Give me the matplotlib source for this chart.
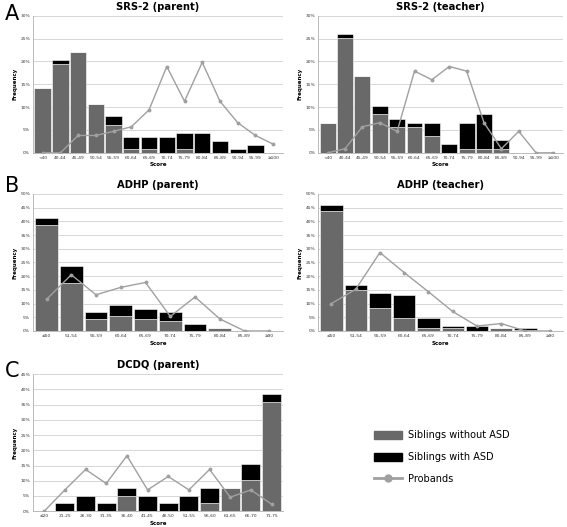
import matplotlib
matplotlib.use("Agg")
import matplotlib.pyplot as plt
import numpy as np
from matplotlib.patches import Patch
from matplotlib.lines import Line2D

# SRS-2 score bins
srs_bins = ['<40', '40-44', '45-49', '50-54', '55-59', '60-64', '65-69', '70-74',
            '75-79', '80-84', '85-89', '90-94', '95-99', '\u2265100']
srs_par_without = [14.2, 19.5, 22.1, 10.6, 6.2, 0.9, 0.9, 0, 0.9, 0, 0, 0, 0, 0]
srs_par_with = [0, 0.9, 0, 0, 1.8, 2.6, 2.6, 3.5, 3.5, 4.4, 2.6, 0.9, 1.8, 0]
srs_par_probands = [0, 0, 3.8, 3.8, 4.7, 5.7, 9.4, 18.9, 11.3, 19.8, 11.3, 6.6, 3.8, 1.9]

srs_tea_without = [6.6, 25.2, 16.8, 8.4, 5.6, 5.6, 3.7, 0, 0.9, 0.9, 0.9, 0, 0, 0]
srs_tea_with = [0, 0.9, 0, 1.9, 1.9, 0.9, 2.8, 1.9, 5.6, 7.5, 1.9, 0, 0, 0]
srs_tea_probands = [0, 0.9, 5.7, 6.6, 4.7, 17.9, 16.0, 18.9, 17.9, 6.6, 0.9, 4.7, 0, 0]

# ADHP score bins
adhp_bins = ['\u226450', '51-54', '55-59', '60-64', '65-69', '70-74', '75-79',
             '80-84', '85-89', '\u226590']
adhp_par_without = [38.6, 17.5, 4.4, 5.3, 4.4, 3.5, 0, 0.9, 0, 0]
adhp_par_with = [2.6, 6.2, 2.6, 4.3, 3.5, 3.5, 2.6, 0, 0, 0]
adhp_par_probands = [11.5, 20.5, 13.2, 15.9, 17.7, 5.3, 12.4, 4.4, 0, 0]

adhp_tea_without = [43.9, 15.0, 8.4, 4.7, 0.9, 0.9, 0, 0.9, 0.5, 0]
adhp_tea_with = [1.9, 1.8, 5.6, 8.4, 3.8, 1.0, 1.9, 0, 0.4, 0]
adhp_tea_probands = [10.0, 15.2, 28.6, 21.3, 14.3, 7.1, 1.8, 2.7, 0, 0]

# DCDQ score bins
dcdq_bins = ['\u226420', '21-25', '26-30', '31-35', '36-40', '41-45', '46-50',
             '51-55', '56-60', '61-65', '66-70', '71-75']
dcdq_without = [0, 0, 0, 0, 5.1, 0, 0, 0, 2.6, 7.7, 10.3, 35.9]
dcdq_with = [0, 2.6, 5.1, 2.6, 2.6, 5.1, 2.6, 5.1, 5.1, 0, 5.1, 2.6]
dcdq_probands = [0, 7.0, 13.7, 9.1, 18.2, 7.0, 11.4, 7.0, 13.7, 4.6, 7.0, 2.3]

GRAY = '#696969'
BLACK = '#000000'
LINE = '#a0a0a0'

fig = plt.figure(figsize=(5.67, 5.27), dpi=100)


def panel(rect, title, bins, without, with_asd, probands, ymax):
    ax = fig.add_axes(rect)
    x = np.arange(len(bins))
    ax.bar(x, without, width=0.92, color=GRAY, edgecolor='white', linewidth=0.4, zorder=2)
    ax.bar(x, with_asd, bottom=without, width=0.92, color=BLACK, edgecolor='white',
           linewidth=0.4, zorder=2)
    ax.plot(x, probands, color=LINE, lw=1.0, marker='o', ms=1.8, zorder=3)
    ax.set_xlim(-0.55, len(bins) - 0.45)
    ax.set_ylim(0, ymax)
    ax.set_yticks(np.arange(0, ymax + 0.1, 5))
    ax.set_yticklabels(['%d%%' % v for v in np.arange(0, ymax + 0.1, 5)])
    ax.set_xticks(x)
    ax.set_xticklabels(bins)
    ax.tick_params(labelsize=3.2, length=0, pad=2, colors='#333333')
    ax.grid(axis='y', color='#d0d0d0', lw=0.6, zorder=0)
    for s in ['top', 'right']:
        ax.spines[s].set_visible(False)
    ax.spines['left'].set_color('#b0b0b0')
    ax.spines['bottom'].set_color('#b0b0b0')
    ax.spines['left'].set_linewidth(0.6)
    ax.spines['bottom'].set_linewidth(0.6)
    ax.set_xlabel('Score', fontsize=4, fontweight='bold', labelpad=2)
    ax.set_ylabel('Frequency', fontsize=4, fontweight='bold', labelpad=2)
    ax.set_title(title, fontsize=7.2, fontweight='bold', pad=4.5)
    return ax


panel([0.058, 0.71, 0.441, 0.26], 'SRS-2 (parent)', srs_bins,
      srs_par_without, srs_par_with, srs_par_probands, 30)
panel([0.561, 0.71, 0.432, 0.26], 'SRS-2 (teacher)', srs_bins,
      srs_tea_without, srs_tea_with, srs_tea_probands, 30)
panel([0.058, 0.372, 0.441, 0.26], 'ADHP (parent)', adhp_bins,
      adhp_par_without, adhp_par_with, adhp_par_probands, 50)
panel([0.561, 0.372, 0.432, 0.26], 'ADHP (teacher)', adhp_bins,
      adhp_tea_without, adhp_tea_with, adhp_tea_probands, 50)
panel([0.058, 0.03, 0.441, 0.26], 'DCDQ (parent)', dcdq_bins,
      dcdq_without, dcdq_with, dcdq_probands, 45)

# panel letters
fig.text(0.008, 0.993, 'A', fontsize=15, va='top')
fig.text(0.008, 0.666, 'B', fontsize=15, va='top')
fig.text(0.008, 0.315, 'C', fontsize=15, va='top')

handles = [Patch(facecolor=GRAY, edgecolor=GRAY, label='Siblings without ASD'),
           Patch(facecolor=BLACK, edgecolor=BLACK, label='Siblings with ASD'),
           Line2D([0], [0], color=LINE, lw=2, marker='o', ms=5, label='Probands')]
fig.legend(handles=handles, loc='upper left', bbox_to_anchor=(0.644, 0.2),
           frameon=False, fontsize=7, handlelength=2.9, handleheight=0.85,
           labelspacing=1.2, handletextpad=0.6)

fig.savefig('out.png', dpi=100, facecolor='white')
